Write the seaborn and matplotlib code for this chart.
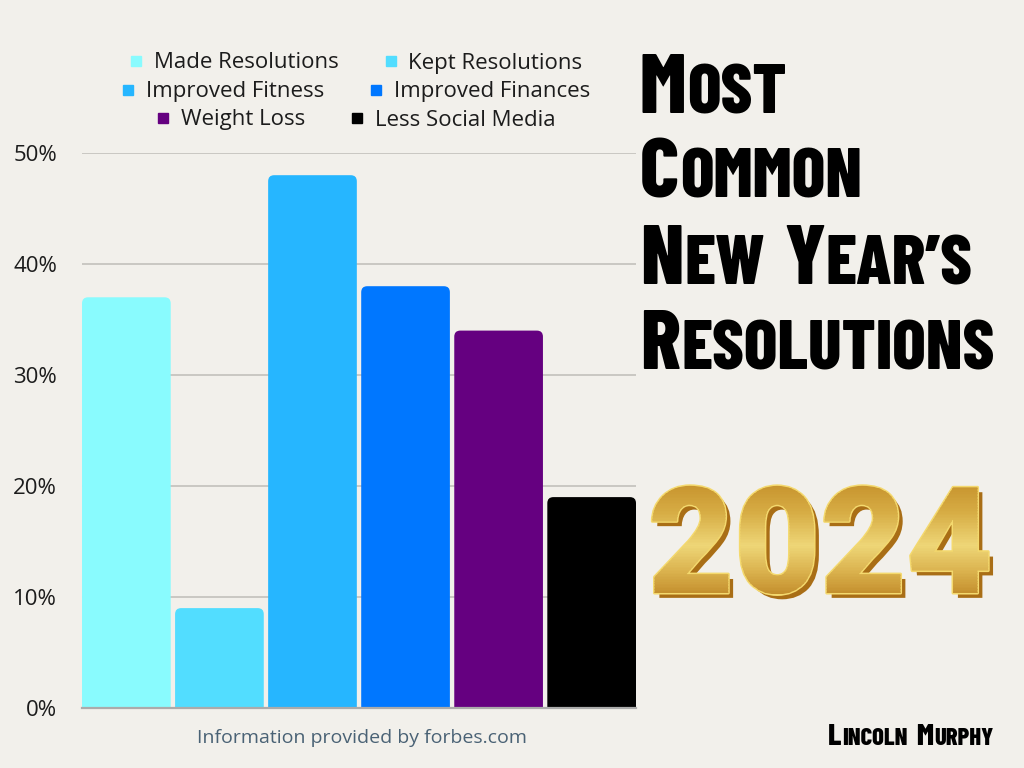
import matplotlib
matplotlib.use("Agg")
import matplotlib.pyplot as plt
import matplotlib.patheffects as pe
from matplotlib.colors import LinearSegmentedColormap
from matplotlib.lines import Line2D
from matplotlib.patches import FancyBboxPatch
from matplotlib.ticker import FuncFormatter
from matplotlib.transforms import Bbox
import seaborn as sns
import pandas as pd

# data (percent of respondents)
categories = ["Made Resolutions", "Kept Resolutions", "Improved Fitness",
              "Improved Finances", "Weight Loss", "Less Social Media"]
values = [37, 9, 48, 38, 34, 19]
colors = ["#89FBFE", "#52DDFF", "#26B6FF", "#0077FF", "#650080", "#000000"]
yticks = [0, 10, 20, 30, 40, 50]

BG = "#F2F0EB"
W, H = 1024, 768
sns.set_theme(style="white")
plt.rcParams["font.family"] = ["Open Sans", "DejaVu Sans"]

df = pd.DataFrame({"goal": categories, "pct": values})
palette = dict(zip(categories, colors))

fig = plt.figure(figsize=(10.24, 7.68), dpi=100, facecolor=BG)
ax = fig.add_axes([0.0801, 0.0781, 0.5410, 0.7227])
ax.set_facecolor(BG)

sns.barplot(data=df, x="goal", y="pct", hue="goal", palette=palette,
            width=0.953, legend=False, saturation=1, ax=ax, zorder=3)

ax.set_xlim(-0.4765, len(categories) - 1 + 0.4765)
ax.set_ylim(0, 50)

# swap the square bars for ones with slightly rounded tops
for p in list(ax.patches):
    x0, w, h, fc = p.get_x(), p.get_width(), p.get_height(), p.get_facecolor()
    p.remove()
    ax.add_patch(FancyBboxPatch((x0, -2), w, h + 2,
                                boxstyle="round,pad=0,rounding_size=0.065",
                                mutation_aspect=8.4, fc=fc, ec="none", zorder=3))

ax.set_yticks(yticks)
ax.yaxis.set_major_formatter(FuncFormatter(lambda v, _: f"{v:.0f}%"))
ax.tick_params(axis="y", length=0, pad=18, labelsize=16, labelcolor="#1c1c1c")
ax.set_xticks([])
ax.set_xlabel("")
ax.set_ylabel("")
ax.grid(axis="y", color="#C9C7C2", lw=1.4, zorder=0)
for s in ["top", "right", "left"]:
    ax.spines[s].set_visible(False)
ax.spines["bottom"].set_color("#ABABAB")
ax.spines["bottom"].set_linewidth(1.6)
ax.spines["bottom"].set_zorder(4)

# legend: three centred rows of two entries
handles = [Line2D([], [], marker="s", ls="none", ms=7.5, mfc=c, mec=c) for c in colors]
rows_y = [1 - 63 / H, 1 - 92 / H, 1 - 120 / H]
for r, yy in enumerate(rows_y):
    fig.legend(handles[2 * r:2 * r + 2], categories[2 * r:2 * r + 2],
               loc="center", bbox_to_anchor=(0.347, yy), ncol=2,
               frameon=False, fontsize=16, handlelength=0.7,
               handletextpad=0.45, columnspacing=2.0, borderpad=0,
               labelcolor="#1c1c1c")

# small caps done by hand: first letter of each word larger
title_font = ["Barlow Condensed", "Anton", "DejaVu Sans"]
renderer = fig.canvas.get_renderer()


def small_caps(x_px, base_px, text, big, small, gap):
    x = x_px
    for i, word in enumerate(text.split(" ")):
        if i:
            x += gap
        for seg, size in ((word[0], big), (word[1:].upper(), small)):
            if not seg:
                continue
            t = fig.text(x / W, 1 - base_px / H, seg, family=title_font,
                         weight=800, fontsize=size, color="black",
                         va="baseline", ha="left")
            x = t.get_window_extent(renderer).x1 + 1


title_lines = ["Most", "Common", "New Year’s", "Resolutions"]
baselines = [113, 198, 284, 369]
for t, b in zip(title_lines, baselines):
    small_caps(640, b, t, 60, 50.5, 18)

small_caps(828, 745, "Lincoln Murphy", 22, 17.7, 7)


# gold gradient fill for the year, painted band by band over the glyph outline
class GoldFill(pe.AbstractPathEffect):
    def __init__(self, cmap, n=70):
        super().__init__()
        self.cmap = cmap
        self.n = n

    def draw_path(self, renderer, gc, tpath, affine, rgbFace=None):
        ext = tpath.get_extents(affine)
        step = ext.height / self.n
        for i in range(self.n):
            y0 = ext.y0 + i * step
            g = renderer.new_gc()
            g.copy_properties(gc)
            g.set_linewidth(0)
            g.set_clip_rectangle(Bbox([[ext.x0 - 10, y0], [ext.x1 + 10, y0 + step + 0.6]]))
            renderer.draw_path(g, tpath, affine, self.cmap(1 - (i + 0.5) / self.n))
            g.restore()


gold = LinearSegmentedColormap.from_list(
    "gold", [(0, "#C8952F"), (0.25, "#D7AD45"), (0.55, "#EED677"),
             (0.8, "#D9B04C"), (1, "#C38E2C")])

fig.text(648 / W, 1 - 593 / H, "2024", family=["Roboto", "DejaVu Sans"], weight="black",
         fontsize=107, color="#D6A63A", va="baseline", ha="left",
         path_effects=[pe.SimplePatchShadow(offset=(3.5, -3.5), shadow_rgbFace="#A96E16", alpha=1),
                       pe.Stroke(linewidth=2.2, foreground="#F4D96E"),
                       GoldFill(gold)])

fig.text(362 / W, 1 - 738 / H, "Information provided by forbes.com",
         fontsize=14, color="#4A6275", ha="center", va="center")

fig.savefig("out.png", dpi=100, facecolor=BG)
